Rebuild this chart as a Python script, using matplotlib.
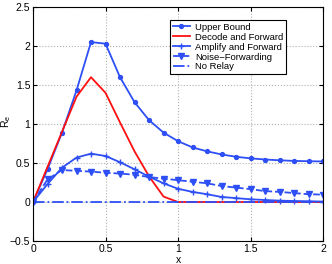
import matplotlib
matplotlib.use("Agg")
import matplotlib.pyplot as plt

# data
x = [0.0, 0.1, 0.2, 0.3, 0.4, 0.5, 0.6, 0.7, 0.8, 0.9, 1.0,
     1.1, 1.2, 1.3, 1.4, 1.5, 1.6, 1.7, 1.8, 1.9, 2.0]
upper = [0.0, 0.42, 0.89, 1.43, 2.05, 2.03, 1.60, 1.28, 1.05, 0.89, 0.78,
         0.70, 0.65, 0.61, 0.58, 0.56, 0.545, 0.535, 0.527, 0.523, 0.52]
df = [0.0, 0.45, 0.90, 1.35, 1.60, 1.40, 1.02, 0.65, 0.33, 0.07, 0.0,
      0.0, 0.0, 0.0, 0.0, 0.0, 0.0, 0.0, 0.0, 0.0, 0.0]
af = [0.0, 0.23, 0.44, 0.57, 0.62, 0.59, 0.51, 0.42, 0.325, 0.24, 0.17,
      0.13, 0.10, 0.065, 0.05, 0.035, 0.026, 0.018, 0.013, 0.01, 0.006]
nf = [0.0, 0.29, 0.41, 0.40, 0.39, 0.375, 0.365, 0.35, 0.32, 0.30, 0.28,
      0.26, 0.24, 0.205, 0.185, 0.165, 0.14, 0.13, 0.115, 0.10, 0.095]
norelay = [0.0] * len(x)

blue = '#2d4ff5'
red = '#ff1010'

plt.rcParams['font.family'] = ['Liberation Sans', 'DejaVu Sans']
fig = plt.figure(figsize=(3.32, 2.64), dpi=100)
ax = fig.add_axes([0.0994, 0.087, 0.8736, 0.8865])

ax.plot(x, upper, '-', color=blue, lw=1.3, marker='o', ms=2.8, label='Upper Bound')
ax.plot(x, df, '-', color=red, lw=1.3, label='Decode and Forward')
ax.plot(x, af, '-', color=blue, lw=1.3, marker='+', ms=4.5, mew=1.0, label='Amplify and Forward')
ax.plot(x, nf, '--', color=blue, lw=1.3, marker='v', ms=4.0, label='Noise\u2212Forwarding')
ax.plot(x, norelay, '-.', color=blue, lw=1.3, label='No Relay')

ax.set_xlim(0, 2)
ax.set_ylim(-0.5, 2.5)
ax.set_xticks([0, 0.5, 1, 1.5, 2])
ax.set_xticklabels(['0', '0.5', '1', '1.5', '2'])
ax.set_yticks([-0.5, 0, 0.5, 1, 1.5, 2, 2.5])
ax.set_yticklabels(['\u22120.5', '0', '0.5', '1', '1.5', '2', '2.5'])
ax.grid(True, linestyle=':', color='#b0b0b0', lw=0.8)
ax.tick_params(direction='in', top=True, right=True, labelsize=7.5, length=3, pad=2)
for s in ax.spines.values():
    s.set_linewidth(0.8)

ax.set_xlabel('x', fontsize=7.5, labelpad=1)
ax.set_ylabel('R$_\\mathregular{e}$', fontsize=7.5)
ax.yaxis.set_label_coords(-0.068, 0.51)

leg = ax.legend(loc='upper left', bbox_to_anchor=(0.472, 0.945), fontsize=6.8,
                frameon=True, fancybox=False, edgecolor='black', framealpha=1,
                handlelength=1.8, handletextpad=0.6, borderpad=0.3,
                labelspacing=0.1, borderaxespad=0)
leg.get_frame().set_linewidth(0.8)

fig.savefig('out.png', dpi=100)
